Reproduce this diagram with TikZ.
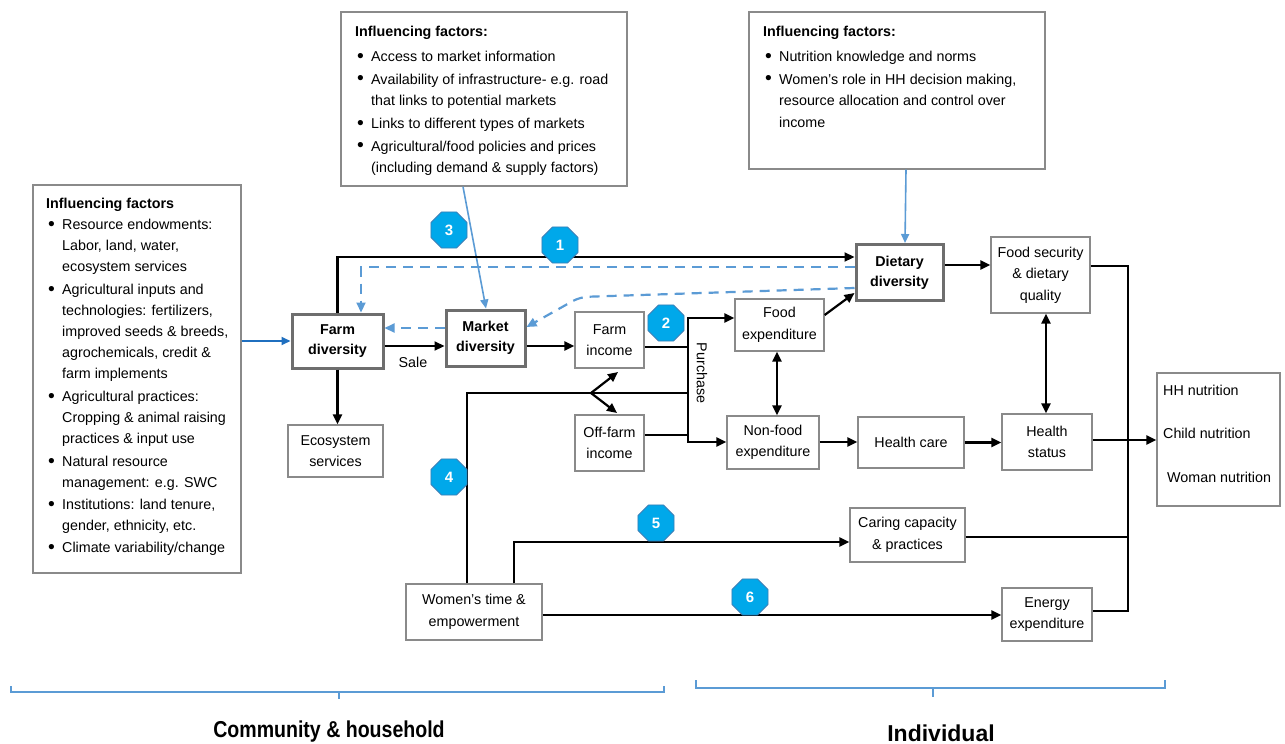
\documentclass[tikz,border=0pt]{standalone}
\usepackage{fontspec}
\setmainfont{Liberation Sans}
\usepackage{graphicx}
\usetikzlibrary{arrows.meta,shapes.geometric,calc}
\definecolor{bdr}{HTML}{8A8A8A}
\definecolor{thk}{HTML}{6E6E6E}
\definecolor{lblue}{HTML}{5B9BD5}
\definecolor{dblue}{HTML}{1F6FBF}
\definecolor{badgefill}{HTML}{00A8EA}
\definecolor{badgeedge}{HTML}{3A7DB5}
\newcommand\bul{\makebox[16pt][l]{\hspace{2pt}\raisebox{-0.5pt}{\scalebox{1.35}{\textbullet}}}}
\newcommand\ind{\hspace*{16pt}}
\begin{document}
\begin{tikzpicture}[x=1pt,y=-1pt,
  every node/.style={font=\fontsize{14.3}{21.5}\selectfont},
  box/.style={draw=bdr,line width=1.3pt,align=center,inner sep=0pt,fill=white},
  thbox/.style={draw=thk,line width=3pt,align=center,inner sep=0pt,fill=white,font=\fontsize{14.3}{20}\selectfont\bfseries},
  info/.style={draw=bdr,line width=1.3pt,inner sep=0pt,fill=white},
  infotext/.style={align=left,inner sep=0pt,anchor=north west},
  ln/.style={line width=2.2pt},
  ar/.style={line width=2.2pt,-{Triangle[length=10pt,width=9pt]}},
  dar/.style={line width=2.2pt,{Triangle[length=10pt,width=9pt]}-{Triangle[length=10pt,width=9pt]}},
  dsh/.style={line width=2.2pt,lblue,dash pattern=on 10pt off 7pt,-{Triangle[length=10pt,width=9pt]}},
  bar/.style={line width=1.6pt,lblue,-{Triangle[length=9pt,width=8pt]}},
  badge/.style={regular polygon,regular polygon sides=8,minimum size=39pt,inner sep=0pt,fill=badgefill,draw=badgeedge,line width=0.8pt,text=white,font=\fontsize{15}{15}\selectfont\bfseries},
  brk/.style={line width=1.8pt,lblue}]
\fill[white] (0,0) rectangle (1285,744);
\path[use as bounding box] (0,0) rectangle (1285,744);

% influencing factor boxes
\node[info,minimum width=208pt,minimum height=388pt] (infoL) at (137,379) {};
\node[infotext,font=\fontsize{14.3}{21}\selectfont] (infoLt) at (46,198) {\textbf{Influencing factors}\\
\bul Resource endowments:\\
\ind Labor, land, water,\\
\ind ecosystem services\\[2pt]
\bul Agricultural inputs and\\
\ind technologies: fertilizers,\\
\ind improved seeds \& breeds,\\
\ind agrochemicals, credit \&\\
\ind farm implements\\[2pt]
\bul Agricultural practices:\\
\ind Cropping \& animal raising\\
\ind practices \& input use\\[2pt]
\bul Natural resource\\
\ind management: e.g. SWC\\[1pt]
\bul Institutions: land tenure,\\
\ind gender, ethnicity, etc.\\[1pt]
\bul Climate variability/change};

\node[info,minimum width=286pt,minimum height=174pt] (infoM) at (484,99) {};
\node[infotext] (infoMt) at (355,26) {\textbf{Influencing factors:}\\[3.5pt]
\bul Access to market information\\[1pt]
\bul Availability of infrastructure- e.g. road\\
\ind that links to potential markets\\[1.5pt]
\bul Links to different types of markets\\[1pt]
\bul Agricultural/food policies and prices\\
\ind (including demand \& supply factors)};

\node[info,minimum width=296pt,minimum height=157pt] (infoR) at (897,90.5) {};
\node[infotext] (infoRt) at (763,26) {\textbf{Influencing factors:}\\[3.5pt]
\bul Nutrition knowledge and norms\\[1pt]
\bul Women’s role in HH decision making,\\
\ind resource allocation and control over\\
\ind income};

% main boxes
\node[thbox,minimum width=91pt,minimum height=54pt] (farmdiv) at (337.5,341) {Farm\\diversity};
\node[thbox,minimum width=79pt,minimum height=56pt] (mktdiv) at (485.5,338) {Market\\diversity};
\node[box,minimum width=69pt,minimum height=56pt] (farminc) at (609.5,340) {Farm\\income};
\node[box,minimum width=69pt,minimum height=56pt] (offfarm) at (609.5,443) {Off-farm\\income};
\node[box,minimum width=89pt,minimum height=52pt] (foodexp) at (779.5,325) {Food\\expenditure};
\node[box,minimum width=92pt,minimum height=53pt] (nonfood) at (773,442.5) {Non-food\\expenditure};
\node[box,minimum width=106pt,minimum height=51pt] (healthcare) at (911,442.5) {Health care};
\node[box,minimum width=90pt,minimum height=56pt] (healthstat) at (1047,442) {Health\\status};
\node[thbox,minimum width=87pt,minimum height=56pt] (dietdiv) at (899.5,272.5) {Dietary\\diversity};
\node[box,minimum width=99pt,minimum height=76pt] (foodsec) at (1040.5,275) {Food security\\\& dietary\\quality};
\node[box,minimum width=123pt,minimum height=133pt] (hh) at (1218.5,439.5) {};
\node[anchor=west,inner sep=0pt] (hh1) at (1163,390) {HH nutrition};
\node[anchor=west,inner sep=0pt] (hh2) at (1163,433) {Child nutrition};
\node[anchor=west,inner sep=0pt] (hh3) at (1167,477) {Woman nutrition};
\node[box,minimum width=95pt,minimum height=52pt] (ecosys) at (335.5,451) {Ecosystem\\services};
\node[box,minimum width=115pt,minimum height=54pt] (caring) at (907.5,535) {Caring capacity\\\& practices};
\node[box,minimum width=90pt,minimum height=53pt] (energy) at (1047,614.5) {Energy\\expenditure};
\node[box,minimum width=136pt,minimum height=56pt] (women) at (474,612) {Women’s time \&\\empowerment};

% blue influencing arrows
\draw[line width=1.8pt,dblue,-{Triangle[length=9pt,width=8pt]}] (infoL.east |- farmdiv.west) -- (farmdiv.west);
\draw[bar] (463,0 |- infoM.south) -- (486,0 |- mktdiv.north);
\draw[bar] (906,0 |- infoR.south) -- (905,0 |- dietdiv.north);

% pathway 1
\draw[ar] (farmdiv.north) |- (dietdiv.west |- 0,257);
% dashed feedbacks
\draw[dsh] (dietdiv.west |- 0,267) -- (361,267) -- (361,0 |- farmdiv.north);
\draw[dsh,rounded corners=8pt] (dietdiv.west |- 0,288) -- (580,297) -- (mktdiv.east |- 0,327);
\draw[dsh] (mktdiv.west |- 0,328) -- (farmdiv.east |- 0,328);

% sale & income
\draw[ar] (farmdiv.east |- 0,346) -- (mktdiv.west |- 0,346);
\node (sale) at (413,362) {Sale};
\draw[ar] (mktdiv.east |- 0,346) -- (farminc.west |- 0,346);
\draw[ln] (farminc.east |- 0,347) -- (688,347);
\draw[ln] (offfarm.east |- 0,435) -- (688,435);
\coordinate (pv) at (688,380);
\draw[ar] (pv) |- (foodexp.west |- 0,318);
\draw[ar] (pv) |- (nonfood.west |- 0,442);
\node[rotate=-90,inner sep=0pt] (purch) at (702,373) {Purchase};

% women's time pathways
\coordinate (br) at (591,393);
\coordinate (tfi) at (618,372);
\coordinate (tof) at (617,413);
\draw[ln] (467,0 |- women.north) |- (688,393);
\draw[ar] (br) -- (tfi);
\draw[ar] (br) -- (tof);
\draw[ar] (514,0 |- women.north) |- (caring.west |- 0,542);
\draw[ar] (women.east |- 0,615) -- (energy.west |- 0,615);

% expenditures
\draw[ar] (foodexp.east |- 0,315) -- (dietdiv.west |- 0,293);
\draw[dar] (777,0 |- foodexp.south) -- (777,0 |- nonfood.north);
\draw[ar] (nonfood.east |- 0,442) -- (healthcare.west |- 0,442);
\draw[ar] (healthcare.east) -- (healthstat.west |- healthcare.east);
\draw[ar] (dietdiv.east |- 0,265) -- (foodsec.west |- 0,265);
\draw[dar] (1046,0 |- foodsec.south) -- (1046,0 |- healthstat.north);
\draw[ar] (farmdiv.south) -- (farmdiv.south |- ecosys.north);

% to nutrition
\draw[ln] (foodsec.east |- 0,266) -| (1128,611) -- (energy.east |- 0,611);
\draw[ln] (caring.east |- 0,537) -- (1128,537);
\draw[ar] (healthstat.east |- 0,440) -- (hh.west |- 0,440);

% badges
\node[badge] (b1) at (560,245) {1};
\node[badge] (b2) at (666,323) {2};
\node[badge] (b3) at (449,230) {3};
\node[badge] (b4) at (449,477) {4};
\node[badge] (b5) at (656,523) {5};
\node[badge] (b6) at (750,597) {6};

% brackets
\draw[brk] (11,686) -- (11,692) -- (664,692) -- (664,686);
\draw[brk] (339,692) -- (339,699);
\draw[brk] (696,680) -- (696,688) -- (1165,688) -- (1165,680);
\draw[brk] (933,688) -- (933,697);
\node[font=\fontsize{23}{23}\selectfont\bfseries] (comm) at (329,732) {\scalebox{0.85}[1]{Community \& household}};
\node[font=\fontsize{23}{23}\selectfont\bfseries] (indiv) at (941,733) {Individual};
\end{tikzpicture}
\end{document}
